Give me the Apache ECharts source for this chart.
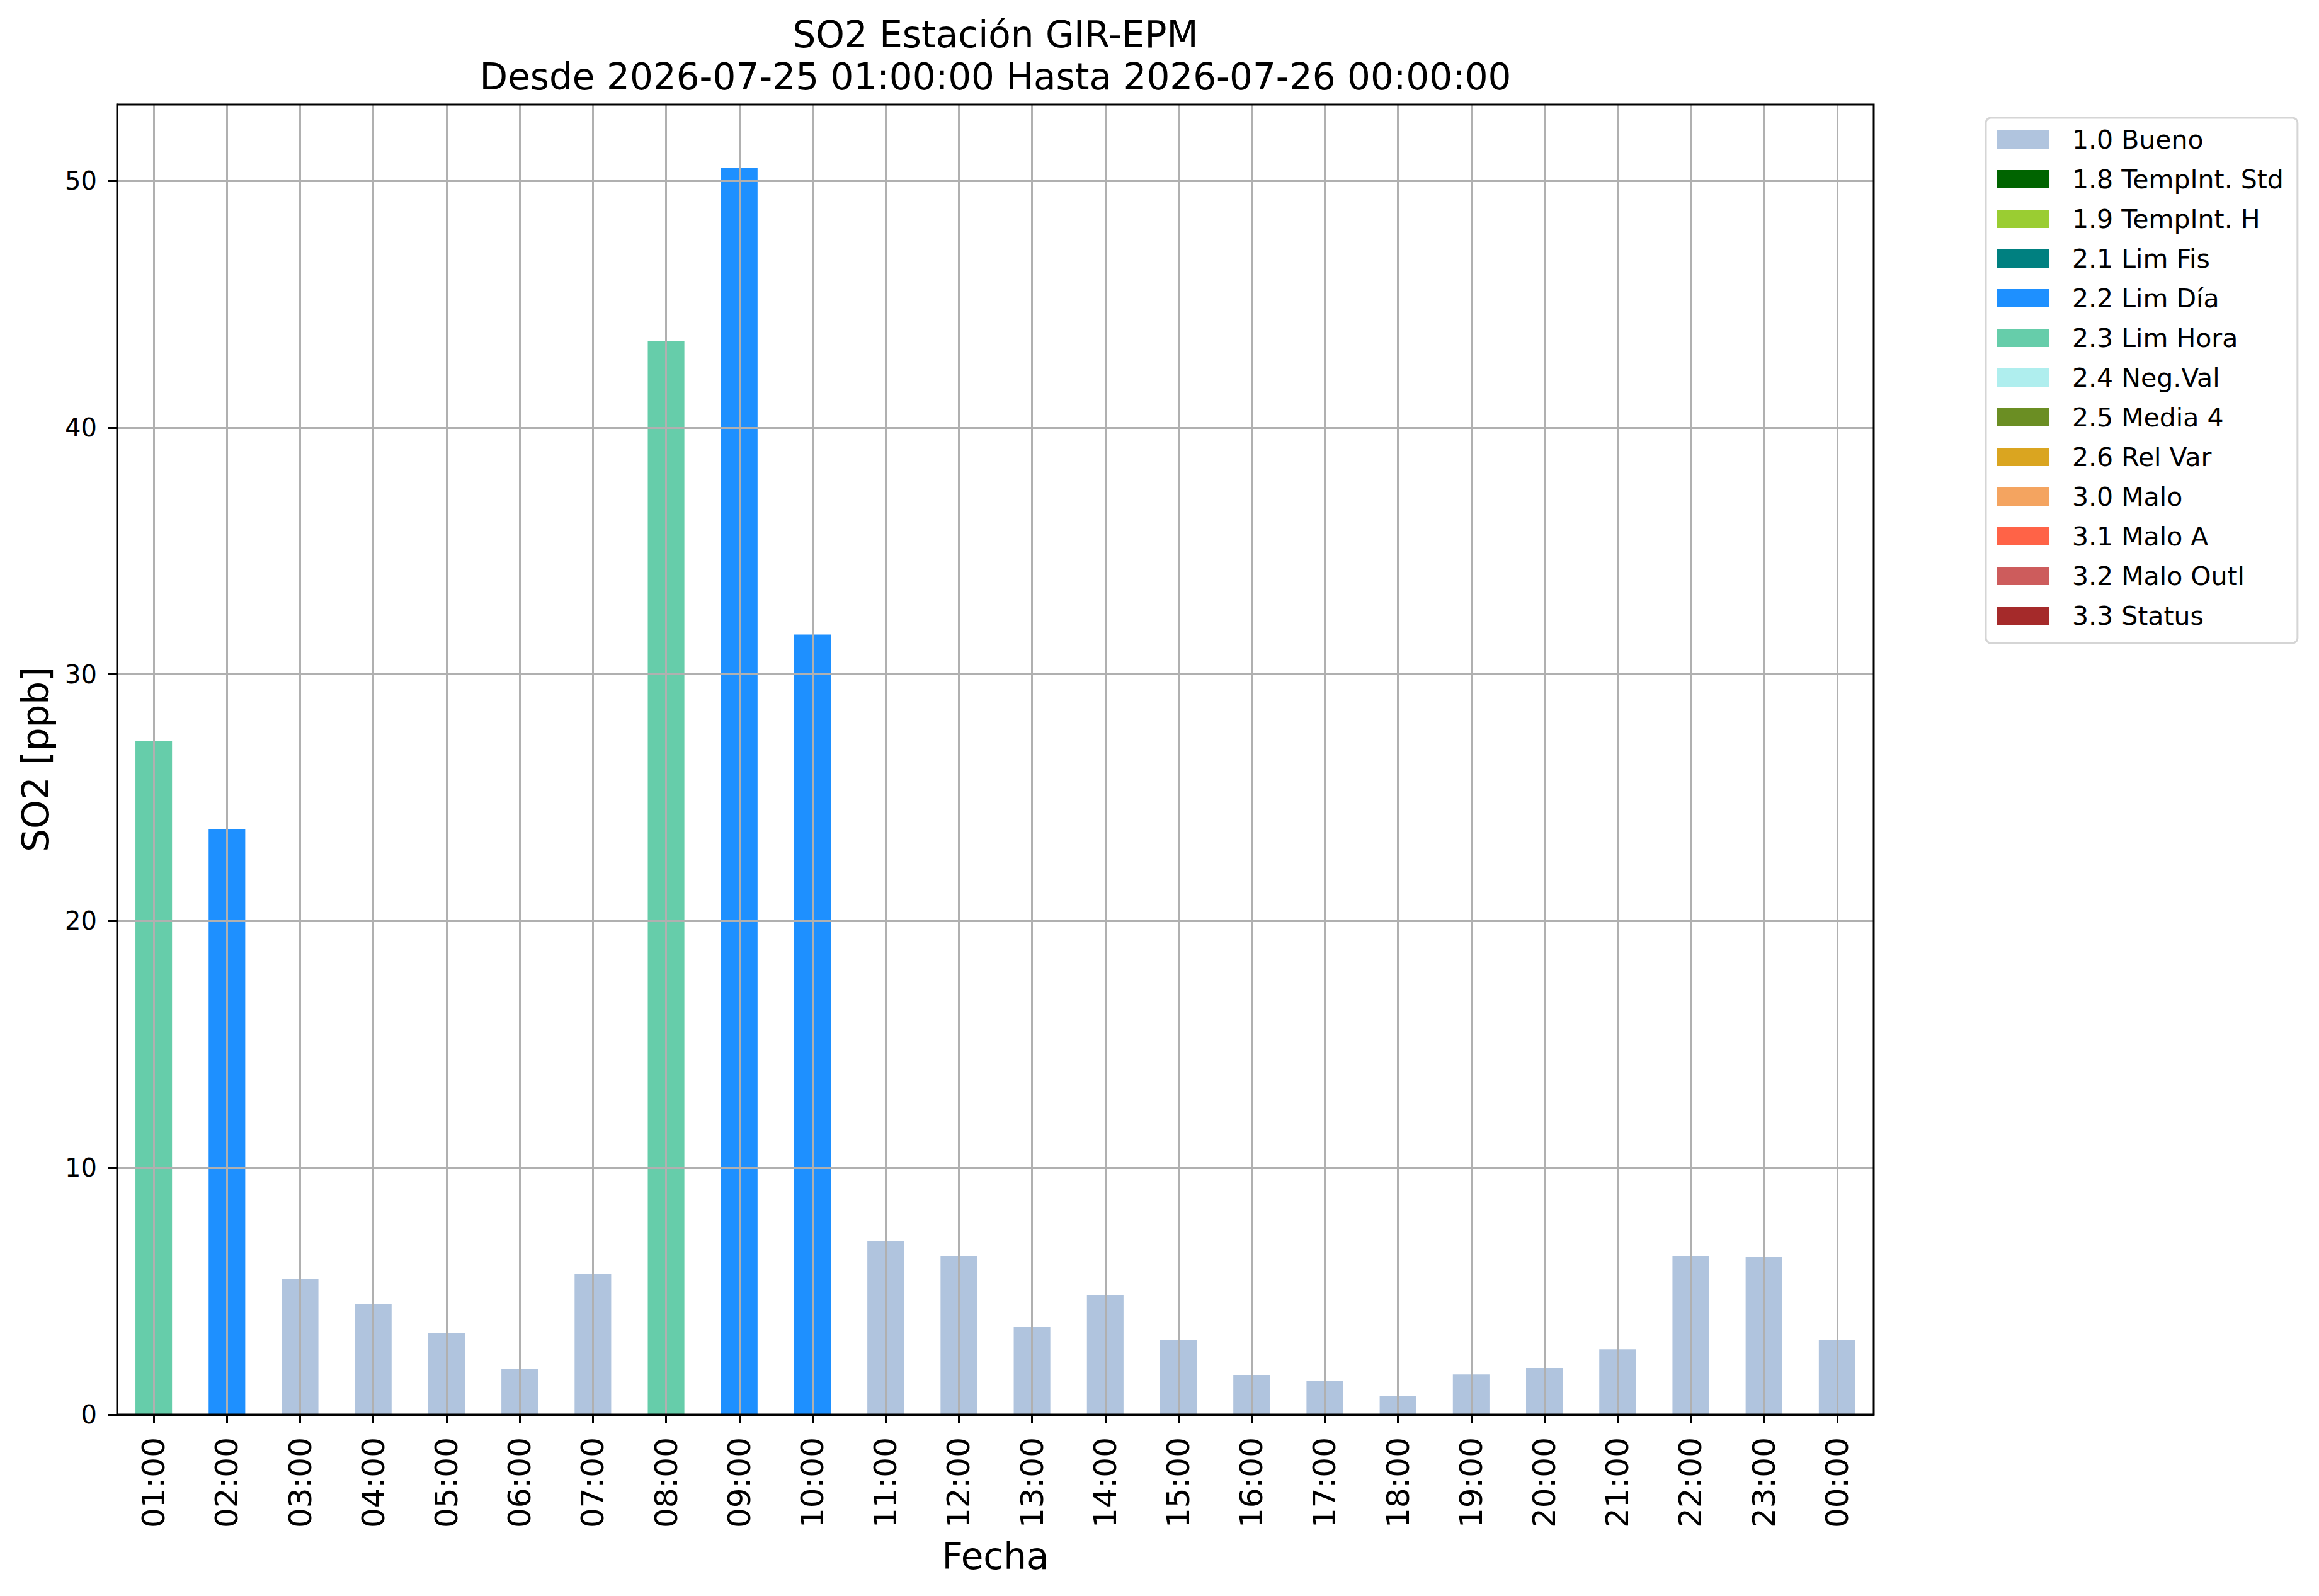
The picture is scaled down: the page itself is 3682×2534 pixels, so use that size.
<!DOCTYPE html>
<html>
<head>
<meta charset="utf-8">
<script src="https://cdn.jsdelivr.net/npm/echarts@6/dist/echarts.min.js"></script>
<style>
html,body{margin:0;padding:0;background:#fff;}
#chart{width:3682px;height:2534px;}
</style>
</head>
<body>
<div id="chart"></div>
<script>
// ---- Data ----
var hours = ['01:00','02:00','03:00','04:00','05:00','06:00','07:00','08:00','09:00','10:00','11:00','12:00',
             '13:00','14:00','15:00','16:00','17:00','18:00','19:00','20:00','21:00','22:00','23:00','00:00'];
var so2Values = [27.3, 23.72, 5.51, 4.49, 3.32, 1.84, 5.69, 43.5, 50.52, 31.61, 7.02, 6.43,
                 3.55, 4.85, 3.01, 1.61, 1.35, 0.74, 1.63, 1.89, 2.65, 6.43, 6.40, 3.04];
var hourFlags = ['2.3','2.2','1.0','1.0','1.0','1.0','1.0','2.3','2.2','2.2','1.0','1.0',
                 '1.0','1.0','1.0','1.0','1.0','1.0','1.0','1.0','1.0','1.0','1.0','1.0'];
var flagCodes = ['1.0','1.8','1.9','2.1','2.2','2.3','2.4','2.5','2.6','3.0','3.1','3.2','3.3'];
var flagNames = ['1.0 Bueno','1.8 TempInt. Std','1.9 TempInt. H','2.1 Lim Fis','2.2 Lim Día','2.3 Lim Hora',
                 '2.4 Neg.Val','2.5 Media 4','2.6 Rel Var','3.0 Malo','3.1 Malo A','3.2 Malo Outl','3.3 Status'];
var flagColors = ['#B0C4DE','#006400','#9ACD32','#008080','#1E90FF','#66CDAA','#AFEEEE','#6B8E23',
                  '#DAA520','#F4A460','#FF6347','#CD5C5C','#A52A2A'];
var yTicks = [0, 10, 20, 30, 40, 50];
var titleLines = ['SO2 Estación GIR-EPM', 'Desde 2026-07-25 01:00:00 Hasta 2026-07-26 00:00:00'];

// ---- Build ----
var FONT = 'DejaVu Sans';
var series = flagCodes.map(function (code, i) {
  return {
    name: flagNames[i],
    type: 'bar',
    stack: 'total',
    barWidth: '50%',
    xAxisIndex: 0,
    itemStyle: { color: flagColors[i] },
    data: so2Values.map(function (v, j) { return hourFlags[j] === code ? v : '-'; }),
    z: 2
  };
});
var centerIdx = hours.map(function (h, i) { return i; });

var chart = echarts.init(document.getElementById('chart'), null, { renderer: 'svg', width: 3682, height: 2534 });
var plotLeft = 186, plotRight = 2975, plotTop = 166, plotBottom = 2246;
var option = {
  animation: false,
  backgroundColor: '#ffffff',
  textStyle: { fontFamily: FONT },
  graphic: [{
    type: 'text',
    x: (plotLeft + plotRight) / 2,
    y: 21,
    style: {
      text: titleLines.join('\n'),
      fontFamily: FONT, fontSize: 58, lineHeight: 67,
      fill: '#000', align: 'center', verticalAlign: 'top'
    },
    z: 100
  }],
  grid: {
    left: plotLeft, top: plotTop, width: plotRight - plotLeft, height: plotBottom - plotTop,
    show: true, borderColor: '#000', borderWidth: 3, backgroundColor: 'transparent', z: 10
  },
  legend: {
    orient: 'vertical',
    left: 3153, top: 187,
    padding: [14, 22, 23, 18],
    itemWidth: 83, itemHeight: 29, itemGap: 22,
    icon: 'rect',
    backgroundColor: 'rgba(255,255,255,0.8)',
    borderColor: '#d5d5d5', borderWidth: 3, borderRadius: 8,
    textStyle: { fontFamily: FONT, fontSize: 41, lineHeight: 41, color: '#000', padding: [0, 0, 0, 31] },
    data: flagNames
  },
  xAxis: [{
    type: 'category',
    data: hours,
    z: 5,
    name: 'Fecha',
    nameLocation: 'middle',
    nameGap: 196,
    nameTextStyle: { fontFamily: FONT, fontSize: 58, color: '#000' },
    axisLine: { show: true, onZero: false, lineStyle: { color: '#000', width: 3 } },
    axisTick: { show: true, alignWithLabel: true, length: 14, lineStyle: { color: '#000', width: 3 } },
    axisLabel: { rotate: 90, margin: 36, fontFamily: FONT, fontSize: 50, color: '#000', interval: 0 },
    splitLine: { show: false }
  }, {
    type: 'value',
    position: 'bottom',
    min: -0.5, max: hours.length - 0.5,
    z: 5,
    axisLine: { show: false, onZero: false },
    axisTick: { show: false, customValues: centerIdx },
    axisLabel: { show: false, customValues: centerIdx },
    splitLine: { show: true, lineStyle: { color: '#b0b0b0', width: 3 } }
  }],
  yAxis: {
    type: 'value',
    min: 0, max: 53.09, interval: 10,
    z: 5,
    name: 'SO2 [ppb]',
    nameLocation: 'middle',
    nameGap: 100,
    nameTextStyle: { fontFamily: FONT, fontSize: 58, color: '#000' },
    axisLine: { show: true, onZero: false, lineStyle: { color: '#000', width: 3 } },
    axisTick: { show: true, length: 14, lineStyle: { color: '#000', width: 3 }, customValues: yTicks },
    axisLabel: { margin: 32, fontFamily: FONT, fontSize: 40, color: '#000', customValues: yTicks },
    splitLine: { show: true, lineStyle: { color: '#b0b0b0', width: 3 } }
  },
  series: series
};
chart.setOption(option);
</script>
</body>
</html>
